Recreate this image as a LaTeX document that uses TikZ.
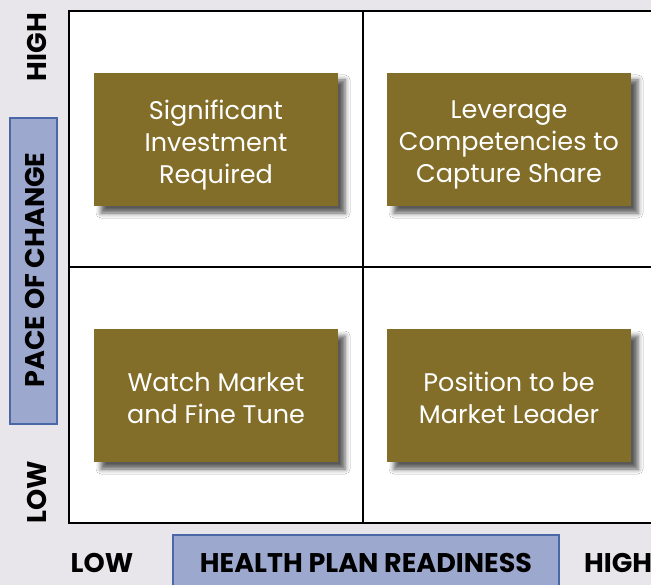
\documentclass[tikz,border=0pt]{standalone}
\usepackage{fontspec}
\setmainfont{Poppins}
\usetikzlibrary{shadows.blur}
\definecolor{pagebg}{HTML}{E8E6EB}
\definecolor{olive}{HTML}{836E29}
\definecolor{axisfill}{HTML}{9DA8CE}
\definecolor{axisline}{HTML}{4A68A8}
\begin{document}
\begin{tikzpicture}[x=1pt,y=-1pt,
  quad/.style={fill=olive, minimum width=244pt, minimum height=133pt, inner sep=0pt,
    blur shadow={shadow xshift=7pt, shadow yshift=-7pt, shadow blur radius=5pt, shadow opacity=65}},
  quadtext/.style={text=white, align=center, inner sep=0pt, text depth=0pt,
    yshift=-2.5pt, font=\fontsize{25.5}{32}\selectfont},
  axisbox/.style={fill=axisfill, draw=axisline, line width=1.5pt, inner sep=0pt},
  axistext/.style={font=\bfseries\fontsize{27}{30}\selectfont, text=black, inner sep=0pt},
  gridline/.style={black, line width=1.2pt}]
  % page
  \fill[pagebg] (0,0) rectangle (651,585);
  \useasboundingbox (0,0) rectangle (651,585);
  % matrix area
  \fill[white] (69,11) rectangle (651,523);
  \coordinate (tl) at (69,11);
  \coordinate (tr) at (651,11);
  \coordinate (bl) at (69,523);
  \coordinate (br) at (651,523);
  \coordinate (mt) at (363,11);
  \coordinate (mb) at (363,523);
  \coordinate (ml) at (69,267);
  \coordinate (mr) at (651,267);
  \draw[gridline] (tr) -- (tl) -- (bl) -- (br);
  \draw[gridline] (mt) -- (mb);
  \draw[gridline] (ml) -- (mr);
  % quadrants
  \node[quad] (q1) at (216,139.5) {};
  \node[quad] (q2) at (509,139.5) {};
  \node[quad] (q3) at (216,395.5) {};
  \node[quad] (q4) at (509,395.5) {};
  \node[quadtext] (t1) at (q1.center) {Significant\\Investment\\Required};
  \node[quadtext] (t2) at (q2.center) {Leverage\\Competencies to\\Capture Share};
  \node[quadtext] (t3) at (q3.center) {Watch Market\\and Fine Tune};
  \node[quadtext] (t4) at (q4.center) {Position to be\\Market Leader};
  % vertical axis
  \node[axisbox, minimum width=47pt, minimum height=306pt] (yaxis) at (33.5,271) {};
  \node[axistext, rotate=90] (ylab) at (35,270) {PACE OF CHANGE};
  \node[axistext, rotate=90] (yhigh) at (37,47) {HIGH};
  \node[axistext, rotate=90] (ylow) at (37,492) {LOW};
  % horizontal axis
  \node[axisbox, minimum width=386pt, minimum height=60pt] (xaxis) at (366,565) {};
  \node[axistext] (xlab) at (366,563) {HEALTH PLAN READINESS};
  \node[axistext] (xlow) at (102,563) {LOW};
  \node[axistext, anchor=west] (xhigh) at (584,563) {HIGH};
\end{tikzpicture}
\end{document}
